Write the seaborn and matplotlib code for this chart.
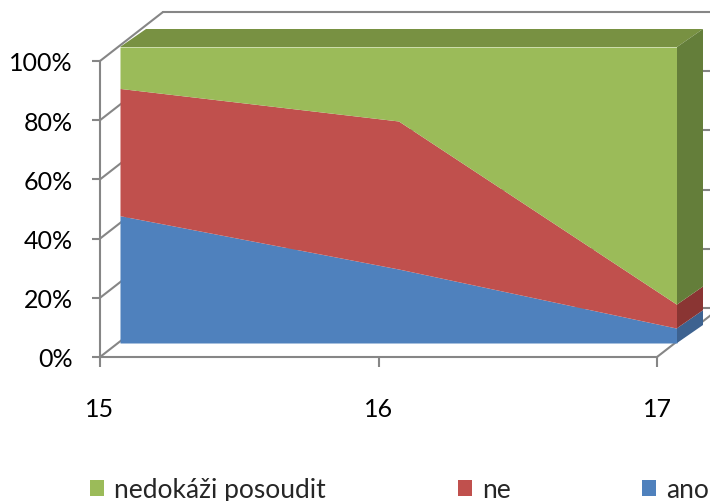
"""
3D-look 100 % stacked area chart (Excel style) rebuilt with seaborn / matplotlib.
"""

import numpy as np
import matplotlib
matplotlib.use("Agg")
import matplotlib.pyplot as plt
import matplotlib.transforms as mtransforms
from matplotlib.patches import Polygon, Patch
import seaborn as sns

# --- Data ---
years = [15, 16, 17]
ano = [43, 25, 5]
ne = [43, 50, 8]
nedokazi = [14, 25, 87]
series_labels = ["ano", "ne", "nedokáži posoudit"]
y_ticks = [0, 20, 40, 60, 80, 100]
y_tick_labels = ["0%", "20%", "40%", "60%", "80%", "100%"]

COLORS = ["#4F81BD", "#C0504D", "#9BBB59"]
SIDE_COLORS = ["#3D6290", "#8A3533", "#647E3A"]
TOP_COLOR = "#789142"
GRID = "#868686"

# pixel offsets (dpi 100) for the fake depth
FRONT = (20, 14)   # front face of the area vs. the axes
DEPTH = (26, 18)   # thickness of the area
WALL = (63, 49)    # back wall vs. the axes

sns.set_theme(style="white")
plt.rcParams["font.family"] = ["Lato", "DejaVu Sans"]

fig = plt.figure(figsize=(7.1, 5.02), dpi=100)
ax = fig.add_axes([100 / 710, 144 / 502, 557 / 710, 296 / 502])
ax.set_xlim(15, 17)
ax.set_ylim(0, 100)


def px(x, y, off=(0, 0)):
    pts = ax.transData.transform(np.column_stack([np.atleast_1d(x), np.atleast_1d(y)]))
    return pts + np.array(off)


def shifted(off):
    return mtransforms.offset_copy(ax.transData, fig=fig, x=off[0], y=off[1], units="dots")


ident = mtransforms.IdentityTransform()
wall_tr = shifted(WALL)

# back wall gridlines, side wall and floor edges
for t in y_ticks:
    ax.plot([15, 17], [t, t], color=GRID, lw=1.5, transform=wall_tr, clip_on=False, zorder=1)
    seg = np.vstack([px(15, t), px(15, t, WALL)])
    ax.add_line(plt.Line2D(seg[:, 0], seg[:, 1], color=GRID, lw=1.5, transform=ident,
                           clip_on=False, zorder=1))
seg = np.vstack([px(17, 0), px(17, 0, WALL)])
ax.add_line(plt.Line2D(seg[:, 0], seg[:, 1], color=GRID, lw=1.5, transform=ident,
                       clip_on=False, zorder=1))

# area: front face
ax.stackplot(years, ano, ne, nedokazi, colors=COLORS, transform=shifted(FRONT),
             clip_on=False, zorder=3, linewidth=0)

# area: top and right faces
back = (FRONT[0] + DEPTH[0], FRONT[1] + DEPTH[1])
top = np.vstack([px(15, 100, FRONT), px(17, 100, FRONT), px(17, 100, back), px(15, 100, back)])
ax.add_patch(Polygon(top, closed=True, facecolor=TOP_COLOR, edgecolor="none",
                     transform=ident, clip_on=False, zorder=3))
cum = np.cumsum([ano, ne, nedokazi], axis=0)[:, -1]
lows = np.concatenate([[0], cum[:-1]])
for lo, hi, c in zip(lows, cum, SIDE_COLORS):
    side = np.vstack([px(17, lo, FRONT), px(17, hi, FRONT), px(17, hi, back), px(17, lo, back)])
    ax.add_patch(Polygon(side, closed=True, facecolor=c, edgecolor="none",
                         transform=ident, clip_on=False, zorder=3))

# axes
for s in ["top", "right"]:
    ax.spines[s].set_visible(False)
for s in ["left", "bottom"]:
    ax.spines[s].set_color(GRID)
    ax.spines[s].set_linewidth(1.5)
ax.set_xticks(years)
ax.set_xticklabels([str(y) for y in years])
ax.set_yticks(y_ticks)
ax.set_yticklabels(y_tick_labels)
ax.tick_params(axis="y", direction="out", length=6, width=1.5, color=GRID,
               pad=13.5, labelsize=18, labelcolor="black", left=True)
ax.tick_params(axis="x", direction="out", length=7, width=1.5, color=GRID,
               pad=22, labelsize=18, labelcolor="black", bottom=True)
ax.grid(False)

# legend
handles = [Patch(facecolor=COLORS[i], edgecolor="none", label=series_labels[i]) for i in [2, 1, 0]]
fig.legend(handles=handles, loc="center left", bbox_to_anchor=(90 / 710, 11 / 502), ncol=3,
           frameon=False, fontsize=19, handlelength=0.53, handleheight=0.53,
           handletextpad=0.38, columnspacing=5.0, borderpad=0, borderaxespad=0)

fig.savefig("out.png", dpi=100)
